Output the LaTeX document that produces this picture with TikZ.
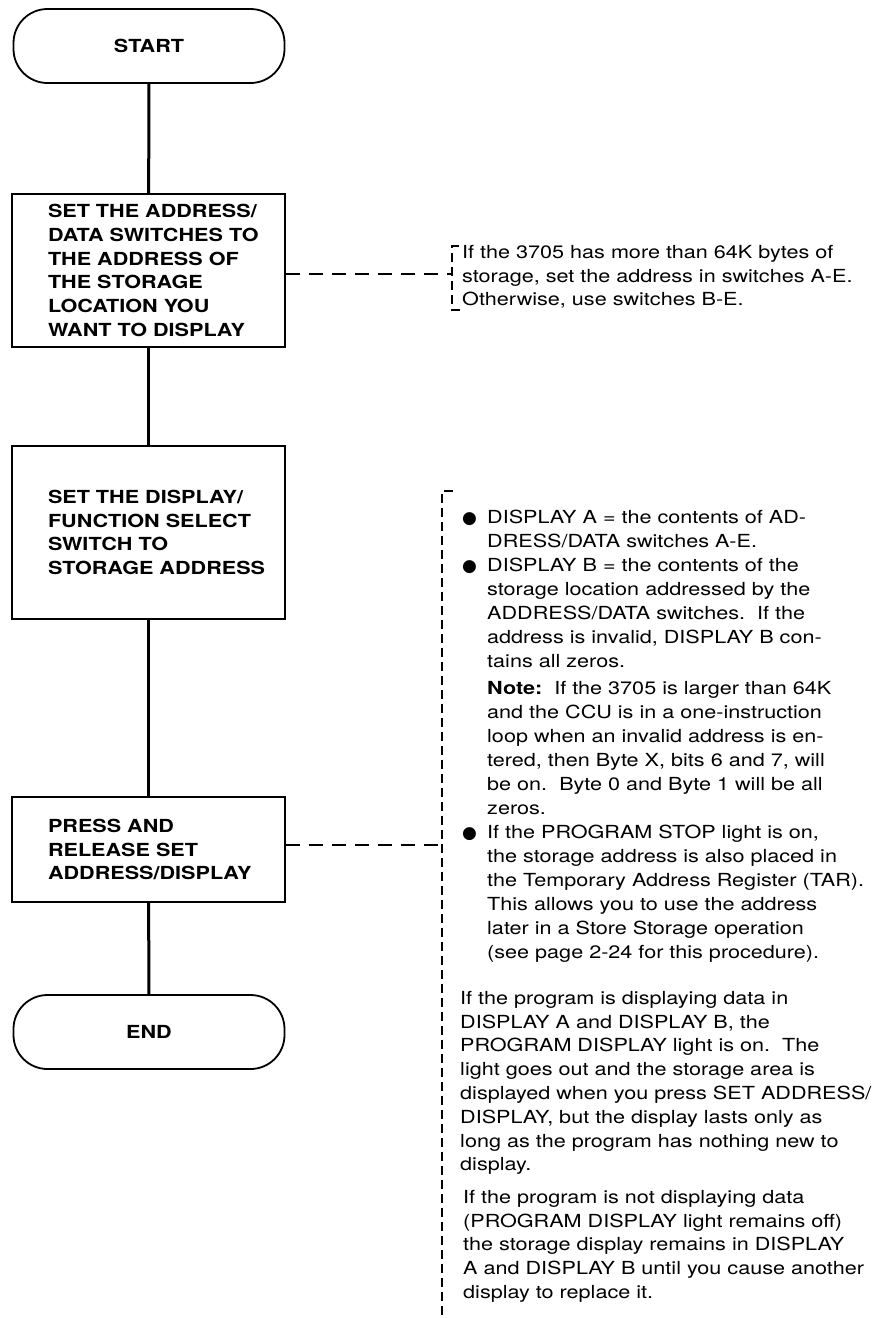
\documentclass[tikz,border=0pt]{standalone}
\usepackage{fontspec}
\setmainfont{TeX Gyre Heros}[FakeStretch=1.2]
\newfontfamily\dotfont{DejaVu Sans}
\usetikzlibrary{positioning}

\tikzset{
  terminal/.style={draw, line width=1.8pt, rounded corners=34pt, minimum width=271pt, minimum height=74pt,
    font=\bfseries\fontsize{18}{24}\selectfont},
  task/.style={draw, line width=1.9pt, text width=273pt, inner xsep=0pt, align=left,
    font=\bfseries\fontsize{18}{23.8}\selectfont,
    execute at begin node={\leftskip=36pt\rightskip=-10pt plus 1fil}},
  flow/.style={line width=3pt},
  link/.style={line width=2.2pt, dash pattern=on 14pt off 9pt},
  bracket/.style={line width=2.2pt, dash pattern=on 9pt off 5pt},
  remark/.style={inner sep=0pt, anchor=north west, align=left, font=\fontsize{18}{23.8}\selectfont},
}
\newcommand{\blt}{\makebox[25pt][l]{\raisebox{0pt}{\dotfont\fontsize{17}{17}\selectfont ●}}}
\newcommand{\ind}{\hspace*{25pt}}

\begin{document}
\begin{tikzpicture}[x=1pt, y=-1pt]
    \useasboundingbox (0,0) rectangle (874,1318);

    % flowchart
    \node[terminal] (start) at (149,46) {START};
    \node[task, minimum height=153pt] (setaddr) at (148.5,270.5)
        {SET THE ADDRESS/\\DATA SWITCHES TO\\THE ADDRESS OF\\THE STORAGE\\LOCATION YOU\\WANT TO DISPLAY};
    \node[task, minimum height=173pt] (setsel) at (148.5,532.5)
        {SET THE DISPLAY/\\FUNCTION SELECT\\SWITCH TO\\STORAGE ADDRESS};
    \node[task, minimum height=105pt] (press) at (148.5,849.5)
        {PRESS AND\\RELEASE SET\\ADDRESS/DISPLAY};
    \node[terminal] (stop) at (149,1032) {END};

    \draw[flow] (start) -- (setaddr);
    \draw[flow] (setaddr) -- (setsel);
    \draw[flow] (setsel) -- (press);
    \draw[flow] (press) -- (stop);

    % notes on the right
    \coordinate (addrjoin) at (452,274);
    \coordinate (pressjoin) at (442,845);
    \draw[link] (setaddr.east |- addrjoin) -- (addrjoin);
    \draw[link] (press.east |- pressjoin) -- (pressjoin);

    \draw[bracket] (459,246) -- (452,246) -- (452,310) -- (460,310);
    \draw[bracket] (453,491) -- (442,491) -- (442,1318);

    \node[remark] (addrnote) at (462,245)
        {If the 3705 has more than 64K bytes of\\storage, set the address in switches A-E.\\Otherwise, use switches B-E.};

    \node[remark, font=\fontsize{18}{24}\selectfont] (displist) at (462,510)
        {\blt DISPLAY A = the contents of AD-\\
         \ind DRESS/DATA switches A-E.\\
         \blt DISPLAY B = the contents of the\\
         \ind storage location addressed by the\\
         \ind ADDRESS/DATA switches.\ \ If the\\
         \ind address is invalid, DISPLAY B con-\\
         \ind tains all zeros.\\[3pt]
         \ind \textbf{Note:}\ \ If the 3705 is larger than 64K\\
         \ind and the CCU is in a one-instruction\\
         \ind loop when an invalid address is en-\\
         \ind tered, then Byte X, bits 6 and 7, will\\
         \ind be on.\ \ Byte 0 and Byte 1 will be all\\
         \ind zeros.\\
         \blt If the PROGRAM STOP light is on,\\
         \ind the storage address is also placed in\\
         \ind the Temporary Address Register (TAR).\\
         \ind This allows you to use the address\\
         \ind later in a Store Storage operation\\
         \ind (see page 2-24 for this procedure).};

    \node[remark] (progon) at (460,991)
        {If the program is displaying data in\\DISPLAY A and DISPLAY B, the\\PROGRAM DISPLAY light is on.\ \ The\\light goes out and the storage area is\\displayed when you press SET ADDRESS/\\DISPLAY, but the display lasts only as\\long as the program has nothing new to\\display.};

    \node[remark] (progoff) at (463,1190)
        {If the program is not displaying data\\(PROGRAM DISPLAY light remains off)\\the storage display remains in DISPLAY\\A and DISPLAY B until you cause another\\display to replace it.};

\end{tikzpicture}
\end{document}
